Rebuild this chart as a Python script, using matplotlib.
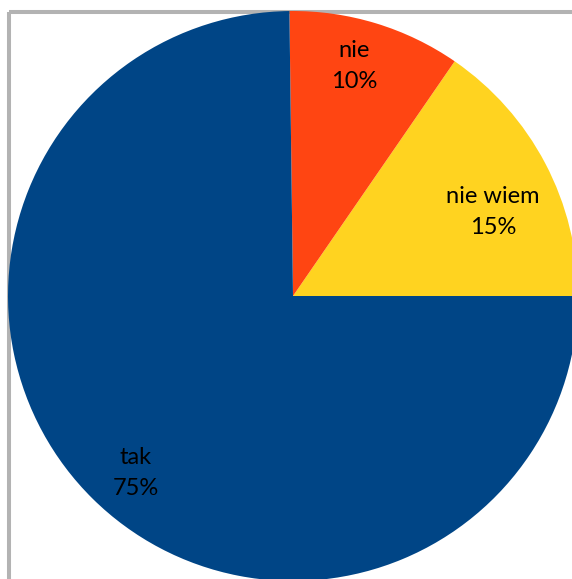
import numpy as np
import matplotlib
matplotlib.use("Agg")
import matplotlib.pyplot as plt
from matplotlib.patches import Rectangle

categories = ["nie wiem", "nie", "tak"]
values = [15.4, 9.8, 74.8]
pct_labels = ["15%", "10%", "75%"]
colors = ["#FFD320", "#FF4512", "#004586"]
label_dist = [0.76, 0.835, 0.83]
label_shift = [-5, 2, 3]  # degrees offset from wedge mid-angle

W, H = 572, 579
fig = plt.figure(figsize=(W / 100, H / 100), dpi=100)
fig.patch.set_facecolor("white")

# outer grey frame (extends beyond the image on right/bottom)
frame = Rectangle((9 / W, 1 - 12 / H), 1.2, -1.2, transform=fig.transFigure,
                  fill=False, edgecolor="#B3B3B3", linewidth=2.9, zorder=-1)
fig.patches.append(frame)

cx, cy, r = 293, 296, 285
ax = fig.add_axes([(cx - r) / W, (H - cy - r) / H, 2 * r / W, 2 * r / H])
ax.set_facecolor("none")
ax.patch.set_visible(False)

wedges, _ = ax.pie(values, colors=colors, startangle=0, counterclock=True,
                   radius=1, wedgeprops=dict(linewidth=0, antialiased=True))
ax.set_xlim(-1, 1)
ax.set_ylim(-1, 1)
ax.set_aspect("equal")
ax.axis("off")

for w, cat, pct, d, s in zip(wedges, categories, pct_labels, label_dist, label_shift):
    mid = np.deg2rad((w.theta1 + w.theta2) / 2 + s)
    ax.text(d * np.cos(mid), d * np.sin(mid), f"{cat}\n{pct}", ha="center", va="center",
            fontsize=17, family=["Lato", "DejaVu Sans"], color="black", linespacing=1.6)

fig.savefig("out.png", dpi=100)
